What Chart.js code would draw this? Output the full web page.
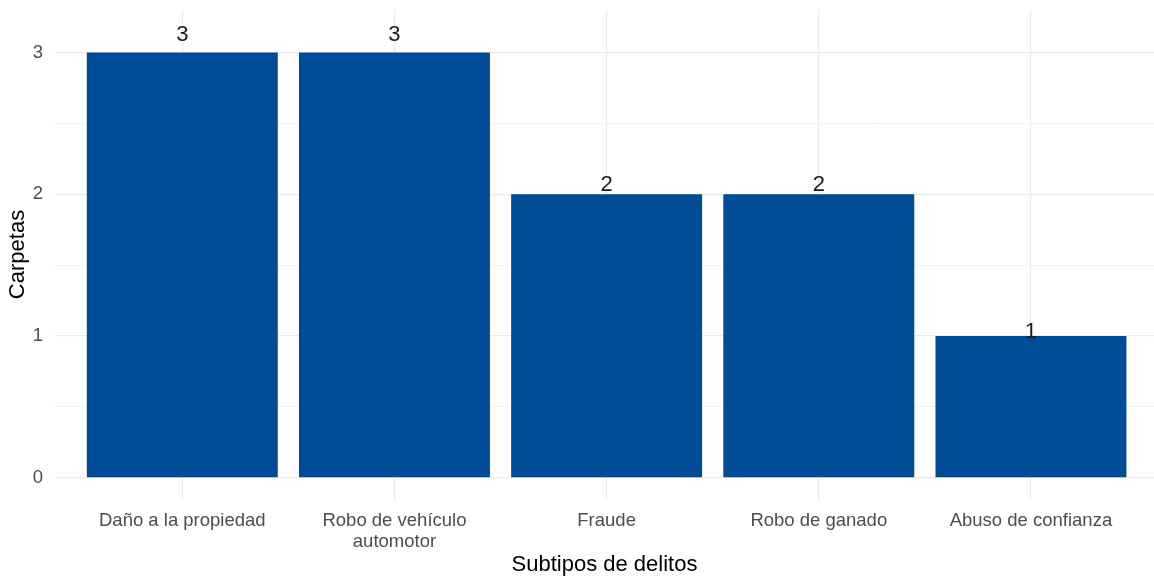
<!DOCTYPE html>
<html>
<head>
<meta charset="utf-8">
<script src="https://cdn.jsdelivr.net/npm/chart.js@4/dist/chart.umd.min.js"></script>
<style>
  html, body { margin: 0; padding: 0; background: #fff; overflow: hidden; }
  #wrap { width: 1154px; height: 579px; }
</style>
</head>
<body>
<div id="wrap"><canvas id="chart"></canvas></div>
<script>
// Data
const categories = [
    'Daño a la propiedad',
    ['Robo de vehículo', 'automotor'],
    'Fraude',
    'Robo de ganado',
    'Abuso de confianza'
];
const carpetas = [3, 3, 2, 2, 1];
const yTicks = [0, 0.5, 1, 1.5, 2, 2.5, 3];
const xTicks = [0, 1, 2, 3, 4];

// label lift above bar tops (px), as in the reference
const labelLift = [11, 11, 2, 2, -3];

const barLabels = {
    id: 'barLabels',
    afterDatasetsDraw(chart) {
        const ctx = chart.ctx;
        const meta = chart.getDatasetMeta(0);
        ctx.save();
        ctx.font = '22px "Liberation Sans", Arial, sans-serif';
        ctx.fillStyle = '#1a1a1a';
        ctx.textAlign = 'center';
        ctx.textBaseline = 'alphabetic';
        meta.data.forEach((bar, i) => {
            ctx.fillText(String(carpetas[i]), bar.x, bar.y - labelLift[i] - 1);
        });
        ctx.restore();
    }
};

const isMinor = c => c.tick && c.tick.value % 1 !== 0;

new Chart(document.getElementById('chart'), {
    type: 'bar',
    data: {
        datasets: [{
            data: carpetas.map((v, i) => ({ x: i, y: v })),
            backgroundColor: '#004B96',
            borderWidth: 0,
            barPercentage: 0.9,
            categoryPercentage: 1.0
        }]
    },
    options: {
        responsive: true,
        maintainAspectRatio: false,
        animation: false,
        layout: { padding: { top: 10, right: 0, left: 0, bottom: 0 } },
        plugins: { legend: { display: false }, tooltip: { enabled: false } },
        scales: {
            x: {
                type: 'linear',
                min: -0.6,
                max: 4.58,
                offset: false,
                afterBuildTicks: s => { s.ticks = xTicks.map(v => ({ value: v })); },
                afterFit: s => { s.height = 80; s.paddingLeft = 0; s.paddingRight = 0; },
                border: { display: false },
                grid: { color: '#ebebeb', lineWidth: 1.2, drawTicks: false, offset: false },
                ticks: {
                    padding: 12,
                    maxRotation: 0,
                    autoSkip: false,
                    color: '#4d4d4d',
                    font: { family: '"Liberation Sans", Arial, sans-serif', size: 18.5, lineHeight: 1.1 },
                    callback: v => categories[v]
                },
                title: {
                    display: true,
                    text: 'Subtipos de delitos',
                    color: '#000',
                    font: { family: '"Liberation Sans", Arial, sans-serif', size: 22 },
                    padding: { top: 0, bottom: 1 }
                }
            },
            y: {
                min: -0.15,
                max: 3.3,
                afterBuildTicks: s => { s.ticks = yTicks.map(v => ({ value: v })); },
                afterFit: s => { s.width = 55; s.paddingTop = 0; s.paddingBottom = 0; },
                border: { display: false },
                grid: {
                    color: c => isMinor(c) ? '#f3f3f3' : '#ebebeb',
                    lineWidth: c => isMinor(c) ? 1 : 1.2,
                    drawTicks: false
                },
                ticks: {
                    padding: 12,
                    color: '#4d4d4d',
                    font: { family: '"Liberation Sans", Arial, sans-serif', size: 18.5 },
                    callback: v => (v % 1 === 0 ? String(v) : '')
                },
                title: {
                    display: true,
                    text: 'Carpetas',
                    color: '#000',
                    font: { family: '"Liberation Sans", Arial, sans-serif', size: 22 },
                    padding: { top: 5, bottom: 0 }
                }
            }
        }
    },
    plugins: [barLabels]
});
</script>
</body>
</html>
